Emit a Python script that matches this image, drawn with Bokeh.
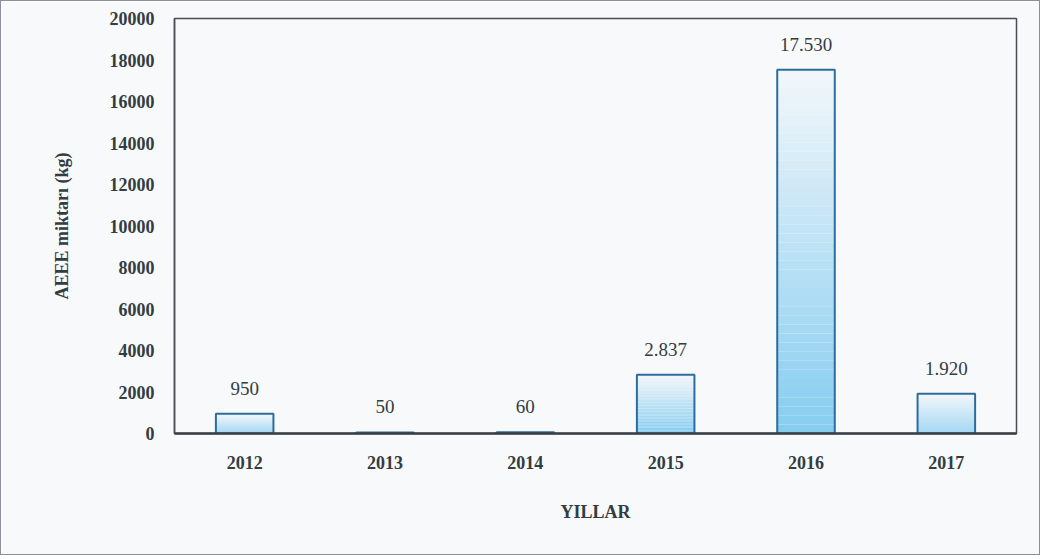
from bokeh.plotting import figure
from bokeh.models import ColumnDataSource, Range1d, FixedTicker, LabelSet
from bokeh.core.properties import value
from bokeh.embed import file_html
from bokeh.resources import INLINE

years = ["2012", "2013", "2014", "2015", "2016", "2017"]
amounts = [950, 50, 60, 2837, 17530, 1920]
labels = ["950", "50", "60", "2.837", "17.530", "1.920"]
y_ticks = [0, 2000, 4000, 6000, 8000, 10000, 12000, 14000, 16000, 18000, 20000]

BG = "#f7f9fb"
TXT = "#333d3f"

p = figure(x_range=years, y_range=Range1d(0, 20000), width=1040, height=555,
           output_backend="svg", toolbar_location=None,
           min_border_left=173, min_border_top=17, min_border_right=25, min_border_bottom=123,
           background_fill_color=BG, border_fill_color=BG,
           styles={"border": "1.5px solid #8a8f99"})

# gradient fill: slices from bottom (blue) to top (white)
N = 40
top_c = (242, 246, 250)
bot_c = (135, 205, 240)
xs, bots, tops, cols = [], [], [], []
for yr, v in zip(years, amounts):
    for k in range(N):
        t = k / (N - 1)
        c = tuple(int(round(bot_c[i] + (top_c[i] - bot_c[i]) * t)) for i in range(3))
        xs.append(yr)
        bots.append(v * k / N)
        tops.append(v * (k + 1) / N)
        cols.append("#%02x%02x%02x" % c)
p.vbar(x=xs, bottom=bots, top=tops, width=0.41, fill_color=cols, line_color=None)

src = ColumnDataSource(dict(x=years, top=amounts, label=labels))
p.vbar(x="x", top="top", width=0.41, source=src, fill_color=None,
       line_color="#2b6d9c", line_width=2)
lbls = LabelSet(x="x", y="top", text="label", source=src, text_align="center",
                text_baseline="bottom", y_offset=19, text_font="Liberation Serif",
                text_font_size="19px", text_color=TXT)
p.add_layout(lbls)

p.grid.visible = False
p.outline_line_color = "#4a4f55"
p.outline_line_width = 1.5

p.yaxis.ticker = FixedTicker(ticks=y_ticks)
p.yaxis.major_tick_line_color = None
p.yaxis.minor_tick_line_color = None
p.yaxis.axis_line_color = "#4a4f55"
p.yaxis.axis_line_width = 1.5
p.yaxis.major_label_standoff = 14
p.yaxis.axis_label = "AEEE miktarı (kg)"
p.yaxis.axis_label_standoff = 35

p.xaxis.major_tick_line_color = None
p.xaxis.axis_line_color = "#3a3f45"
p.xaxis.axis_line_width = 2.5
p.xaxis.major_label_standoff = 16
p.xaxis.axis_label = "YILLAR"
p.xaxis.axis_label_standoff = 30

for ax in (p.xaxis, p.yaxis):
    ax.major_label_text_font = "Liberation Serif"
    ax.major_label_text_font_style = "bold"
    ax.major_label_text_font_size = "18px"
    ax.major_label_text_color = TXT
    ax.axis_label_text_font = "Liberation Serif"
    ax.axis_label_text_font_style = "bold"
    ax.axis_label_text_font_size = "18px"
    ax.axis_label_text_color = TXT

open("out.html", "w").write(file_html(p, INLINE))
